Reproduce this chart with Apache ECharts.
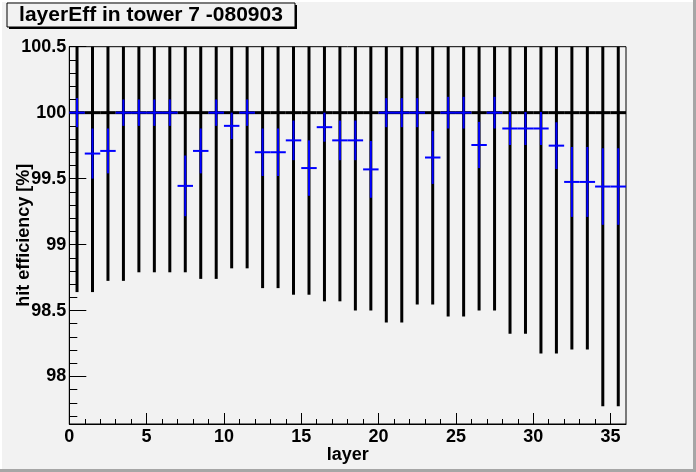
<!DOCTYPE html>
<html>
<head>
<meta charset="utf-8">
<script src="https://cdn.jsdelivr.net/npm/echarts@6/dist/echarts.min.js"></script>
<style>
  html, body { margin: 0; padding: 0; background: #f2f2f2; }
  #chart { width: 696px; height: 472px; }
</style>
</head>
<body>
<div id="chart"></div>
<script>
// layer centres (x), reference points and measured efficiency
const layers = [0.5, 1.5, 2.5, 3.5, 4.5, 5.5, 6.5, 7.5, 8.5, 9.5, 10.5, 11.5,
  12.5, 13.5, 14.5, 15.5, 16.5, 17.5, 18.5, 19.5, 20.5, 21.5, 22.5, 23.5,
  24.5, 25.5, 26.5, 27.5, 28.5, 29.5, 30.5, 31.5, 32.5, 33.5, 34.5, 35.5]
const refEff = [100, 100, 100, 100, 100, 100, 100, 100, 100, 100, 100, 100,
  100, 100, 100, 100, 100, 100, 100, 100, 100, 100, 100, 100,
  100, 100, 100, 100, 100, 100, 100, 100, 100, 100, 100, 100]
const refErr = [1.36, 1.36, 1.275, 1.275, 1.21, 1.21, 1.21, 1.21, 1.26, 1.26, 1.18, 1.18,
  1.33, 1.33, 1.38, 1.38, 1.43, 1.43, 1.5, 1.5, 1.59, 1.59, 1.455, 1.455,
  1.545, 1.545, 1.5, 1.5, 1.675, 1.675, 1.825, 1.825, 1.795, 1.795, 2.225, 2.225]
const eff = [100, 99.69, 99.71, 100, 100, 100, 100, 99.445, 99.71, 100, 99.9, 100,
  99.7, 99.7, 99.79, 99.58, 99.89, 99.79, 99.79, 99.57, 100, 100, 100, 99.66,
  100, 100, 99.755, 100, 99.88, 99.88, 99.88, 99.75, 99.475, 99.475, 99.44, 99.44]
const effErr = [0.11, 0.19, 0.17, 0.1, 0.1, 0.1, 0.1, 0.23, 0.17, 0.1, 0.1, 0.1,
  0.18, 0.18, 0.15, 0.21, 0.11, 0.15, 0.15, 0.215, 0.11, 0.11, 0.11, 0.2,
  0.12, 0.12, 0.175, 0.12, 0.125, 0.125, 0.125, 0.177, 0.265, 0.265, 0.29, 0.29]
const xTicks = [0, 5, 10, 15, 20, 25, 30, 35]
const xMinor = [1, 2, 3, 4, 6, 7, 8, 9, 11, 12, 13, 14, 16, 17, 18, 19, 21, 22, 23, 24,
  26, 27, 28, 29, 31, 32, 33, 34]
const yTicks = [98, 98.5, 99, 99.5, 100, 100.5]
const yMinor = [97.7, 97.8, 97.9, 98.1, 98.2, 98.3, 98.4, 98.6, 98.7, 98.8, 98.9,
  99.1, 99.2, 99.3, 99.4, 99.6, 99.7, 99.8, 99.9, 100.1, 100.2, 100.3, 100.4]

const X_MIN = 0, X_MAX = 36
const Y_MIN = 97.64, Y_MAX = 100.5
const FONT = 'Liberation Sans, Arial, sans-serif'

// x 误差固定为半个层宽
const toPoints = (ys, errs) => layers.map((x, i) => [x, ys[i], 0.5, errs[i]])

const errorBars = (color, width) => (params, api) => {
  const x = api.value(0), y = api.value(1)
  const ex = api.value(2), ey = api.value(3)
  const lo = Math.max(y - ey, Y_MIN), hi = Math.min(y + ey, Y_MAX)
  const l = api.coord([Math.max(x - ex, X_MIN), y])
  const r = api.coord([Math.min(x + ex, X_MAX), y])
  const t = api.coord([x, hi])
  const b = api.coord([x, lo])
  const style = { stroke: color, lineWidth: width }
  return {
    type: 'group',
    children: [
      { type: 'line', shape: { x1: t[0], y1: t[1], x2: b[0], y2: b[1] }, style },
      { type: 'line', shape: { x1: l[0], y1: l[1], x2: r[0], y2: r[1] }, style },
    ],
  }
}

const labelStyle = { color: '#000', fontFamily: FONT, fontWeight: 'bold', fontSize: 18 }

const chart = echarts.init(document.getElementById('chart'), null, { renderer: 'canvas' })
chart.setOption({
  backgroundColor: '#f2f2f2',
  animation: false,
  grid: {
    left: 69.3, right: 70, top: 46.7, bottom: 48,
    outerBoundsMode: 'none', containLabel: false,
    show: true, borderColor: '#000', borderWidth: 1, backgroundColor: 'transparent',
  },
  xAxis: [
    {
      type: 'value', min: X_MIN, max: X_MAX, position: 'bottom',
      name: 'layer', nameLocation: 'middle', nameGap: 22, nameMoveOverlap: false,
      nameTextStyle: labelStyle,
      axisLine: { show: true, lineStyle: { color: '#000', width: 1 } },
      axisTick: { show: true, inside: true, length: 11, customValues: xTicks, lineStyle: { color: '#000' } },
      axisLabel: { ...labelStyle, margin: 4, customValues: xTicks },
      splitLine: { show: false },
    },
    {
      type: 'value', min: X_MIN, max: X_MAX, position: 'bottom',
      axisLine: { show: false },
      axisTick: { show: true, inside: true, length: 5, customValues: xMinor, lineStyle: { color: '#000' } },
      axisLabel: { show: false },
      splitLine: { show: false },
    },
  ],
  yAxis: [
    {
      type: 'value', min: Y_MIN, max: Y_MAX, position: 'left',
      name: 'hit efficiency [%]', nameLocation: 'middle', nameGap: 36, nameRotate: 90,
      nameMoveOverlap: false,
      nameTextStyle: labelStyle,
      axisLine: { show: true, lineStyle: { color: '#000', width: 1 } },
      axisTick: { show: true, inside: true, length: 17, customValues: yTicks, lineStyle: { color: '#000' } },
      axisLabel: { ...labelStyle, margin: 3, customValues: yTicks },
      splitLine: { show: false },
    },
    {
      type: 'value', min: Y_MIN, max: Y_MAX, position: 'left',
      axisLine: { show: false },
      axisTick: { show: true, inside: true, length: 8, customValues: yMinor, lineStyle: { color: '#000' } },
      axisLabel: { show: false },
      splitLine: { show: false },
    },
  ],
  graphic: [
    // canvas bevel
    { type: 'rect', shape: { x: 0, y: 0, width: 696, height: 2 }, style: { fill: '#ffffff' }, silent: true },
    { type: 'rect', shape: { x: 0, y: 0, width: 2, height: 472 }, style: { fill: '#ffffff' }, silent: true },
    { type: 'rect', shape: { x: 0, y: 469, width: 696, height: 3 }, style: { fill: '#a6a6a6' }, silent: true },
    { type: 'rect', shape: { x: 693, y: 0, width: 3, height: 472 }, style: { fill: '#a6a6a6' }, silent: true },
    // title box with shadow
    { type: 'rect', shape: { x: 9, y: 5, width: 288, height: 24 }, style: { fill: '#000' }, silent: true },
    { type: 'rect', shape: { x: 7, y: 3, width: 288, height: 24 }, style: { fill: '#f2f2f2', stroke: '#000', lineWidth: 1 }, silent: true },
    {
      type: 'text', x: 151, y: 15.5, silent: true,
      style: {
        text: 'layerEff in tower 7 -080903', fill: '#000',
        font: 'bold 21px ' + FONT, textAlign: 'center', textVerticalAlign: 'middle',
      },
    },
  ],
  series: [
    {
      type: 'custom', name: 'reference', xAxisIndex: 0, yAxisIndex: 0,
      renderItem: errorBars('#000000', 3),
      data: toPoints(refEff, refErr),
      z: 2,
    },
    {
      type: 'custom', name: 'layerEff', xAxisIndex: 0, yAxisIndex: 0,
      renderItem: errorBars('#0000ff', 2),
      data: toPoints(eff, effErr),
      z: 3,
    },
  ],
})
</script>
</body>
</html>
